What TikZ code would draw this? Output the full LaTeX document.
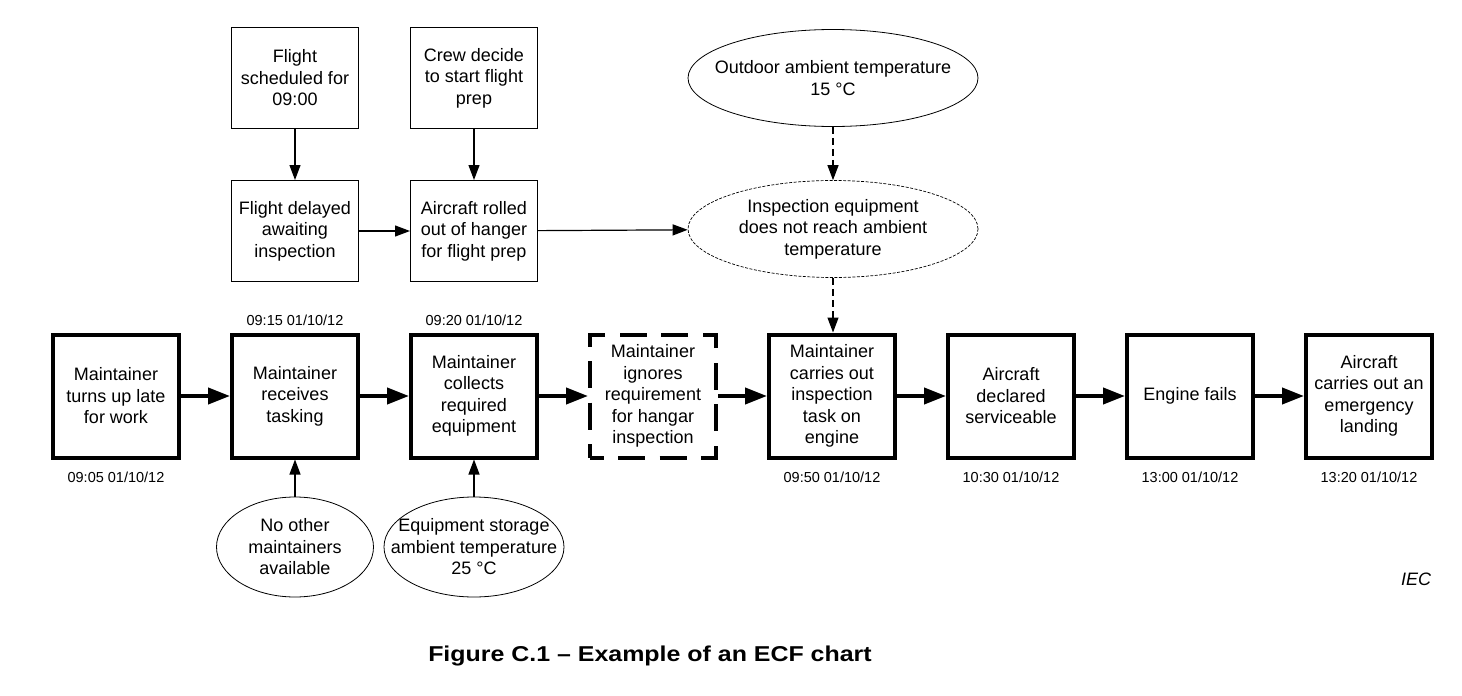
\documentclass[tikz,border=0pt]{standalone}
\usepackage{fontspec}
\setmainfont{Liberation Sans}
\newfontfamily\capfont[FakeStretch=1.16]{Liberation Sans}
\usetikzlibrary{positioning, arrows.meta, shapes.geometric}

\begin{document}
\begin{tikzpicture}[x=1pt, y=1pt, node distance=179pt, auto]
    \tikzstyle{event} = [rectangle, draw, line width=4pt, minimum width=126pt, minimum height=123pt, align=center, font=\fontsize{18}{21.5}\selectfont]
    \tikzstyle{hidden} = [event, dash pattern=on 27pt off 14.5pt, dash phase=13.5pt]
    \tikzstyle{condition} = [rectangle, draw, line width=1pt, minimum width=127pt, minimum height=101pt, align=center, font=\fontsize{18}{21.5}\selectfont]
    \tikzstyle{factor} = [ellipse, draw, line width=0.8pt, inner xsep=-25pt, inner ysep=0pt, align=center, font=\fontsize{18}{21.5}\selectfont]
    \tikzstyle{stamp} = [font=\fontsize{14.5}{16}\selectfont, inner sep=2pt]
    \tikzstyle{arrow} = [line width=4pt, -{Triangle[length=22pt, width=16pt]}]
    \tikzstyle{link} = [line width=1.2pt, -{Triangle[length=15pt, width=11pt]}]
    \tikzstyle{hint} = [link, dash pattern=on 7pt off 4pt]

    \useasboundingbox (0,0) rectangle (1462,-696);

    % main sequence
    \node [event] (late) at (116,-396) {Maintainer\\turns up late\\for work};
    \node [event, right of=late] (tasking) {Maintainer\\receives\\tasking};
    \node [event, right of=tasking] (collect) {Maintainer\\collects\\required\\equipment};
    \node [hidden, right of=collect] (ignore) {Maintainer\\ignores\\requirement\\for hangar\\inspection};
    \node [event, right of=ignore] (inspect) {Maintainer\\carries out\\inspection\\task on\\engine};
    \node [event, right of=inspect] (service) {Aircraft\\declared\\serviceable};
    \node [event, right of=service] (fails) {Engine fails};
    \node [event, right of=fails] (landing) {Aircraft\\carries out an\\emergency\\landing};

    \node [stamp, below=10pt of late] {09:05 01/10/12};
    \node [stamp, above=5pt of tasking] {09:15 01/10/12};
    \node [stamp, above=5pt of collect] {09:20 01/10/12};
    \node [stamp, below=10pt of inspect] {09:50 01/10/12};
    \node [stamp, below=10pt of service] {10:30 01/10/12};
    \node [stamp, below=10pt of fails] {13:00 01/10/12};
    \node [stamp, below=10pt of landing] {13:20 01/10/12};

    % conditions
    \node [condition] (sched) at (295,-78) {Flight\\scheduled for\\09:00};
    \node [condition] (crew) at (474,-78) {Crew decide\\to start flight\\prep};
    \node [condition] (delay) at (295,-231) {Flight delayed\\awaiting\\inspection};
    \node [condition] (rolled) at (474,-231) {Aircraft rolled\\out of hanger\\for flight prep};

    \node [factor, minimum width=290pt, minimum height=97pt] (outdoor) at (833,-78) {Outdoor ambient temperature\\15 °C};
    \node [factor, dash pattern=on 3pt off 1.5pt, line width=0.7pt, minimum width=290pt, minimum height=97pt] (noreach) at (833,-229) {Inspection equipment\\does not reach ambient\\temperature};
    \node [factor, minimum width=157pt, minimum height=100pt] (noother) at (295,-547) {No other\\maintainers\\available};
    \node [factor, minimum width=180pt, minimum height=100pt] (storage) at (474,-547) {Equipment storage\\ambient temperature\\25 °C};

    \draw [arrow] (late) -- (tasking);
    \draw [arrow] (tasking) -- (collect);
    \draw [arrow] (collect) -- (ignore);
    \draw [arrow] (ignore) -- (inspect);
    \draw [arrow] (inspect) -- (service);
    \draw [arrow] (service) -- (fails);
    \draw [arrow] (fails) -- (landing);

    \draw [link] (sched) -- (delay);
    \draw [link] (crew) -- (rolled);
    \draw [link] (delay) -- (rolled);
    \draw [link] (rolled) -- (noreach);
    \draw [link] (noother) -- (tasking);
    \draw [link] (storage) -- (collect);
    \draw [hint] (outdoor) -- (noreach);
    \draw [hint] (noreach) -- (noreach |- inspect.north);

    \node [font=\fontsize{18}{20}\selectfont\itshape] (iec) at (1416,-579) {IEC};
    \node [font=\capfont\fontsize{21.5}{26}\selectfont\bfseries] (caption) at (650,-656) {Figure C.1 – Example of an ECF chart};
\end{tikzpicture}
\end{document}
